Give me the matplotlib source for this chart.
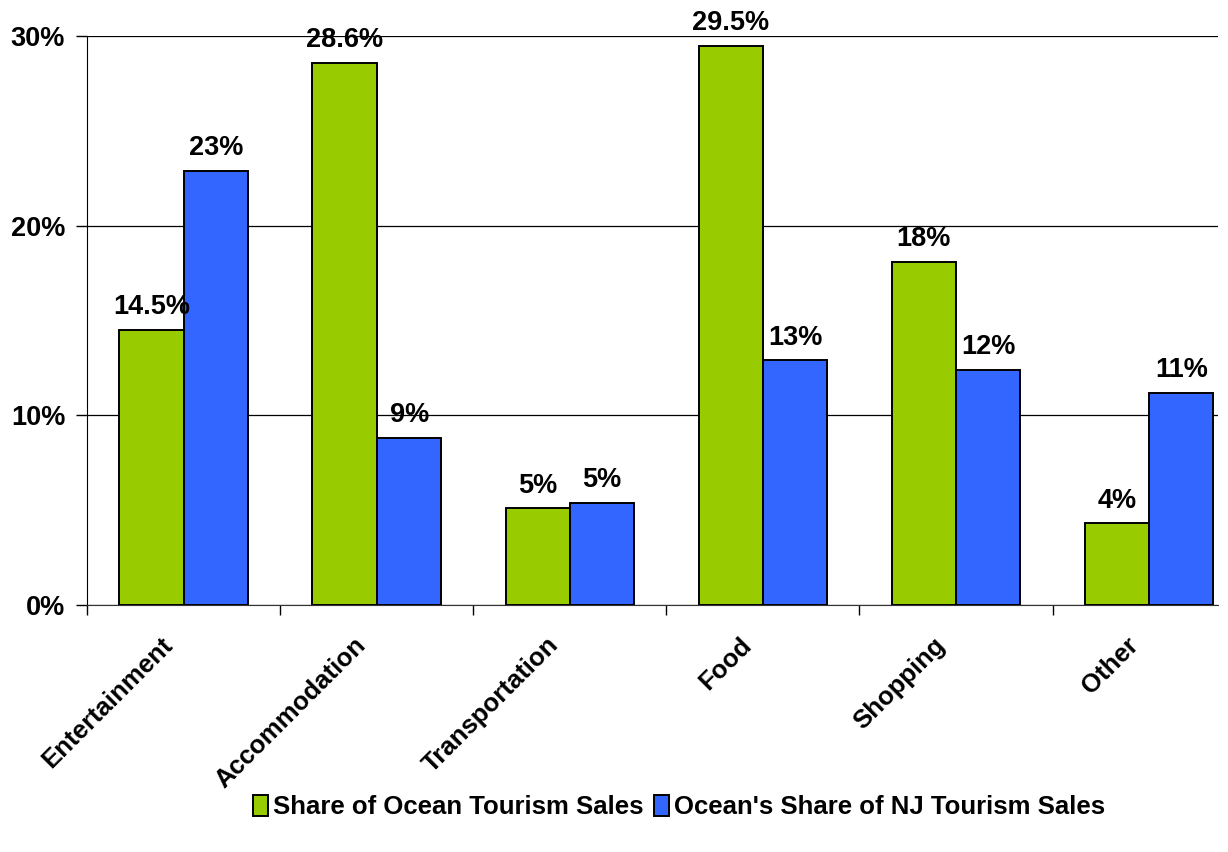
import numpy as np
import matplotlib
matplotlib.use("Agg")
from matplotlib import pyplot as plt
from matplotlib.ticker import FuncFormatter

categories = ["Entertainment", "Accommodation", "Transportation", "Food", "Shopping", "Other"]
ocean_share = [14.5, 28.6, 5.1, 29.5, 18.1, 4.3]
nj_share = [22.9, 8.8, 5.4, 12.9, 12.4, 11.2]
ocean_labels = ["14.5%", "28.6%", "5%", "29.5%", "18%", "4%"]
nj_labels = ["23%", "9%", "5%", "13%", "12%", "11%"]

plt.rcParams['font.family'] = ['Liberation Sans', 'DejaVu Sans']
plt.rcParams['font.weight'] = 'bold'
FS = 19.5

fig = plt.figure(figsize=(12.28, 8.52), dpi=100)
ax = fig.add_axes([0.0712, 0.2899, 0.9206, 0.6678])

x = np.arange(len(categories))
w = 0.334
bars1 = ax.bar(x - w/2, ocean_share, w, color='#99CC00', edgecolor='black', linewidth=1.4,
               label='Share of Ocean Tourism Sales', zorder=3)
bars2 = ax.bar(x + w/2, nj_share, w, color='#3366FF', edgecolor='black', linewidth=1.4,
               label="Ocean's Share of NJ Tourism Sales", zorder=3)

for b, t in zip(bars1, ocean_labels):
    ax.annotate(t, (b.get_x() + b.get_width()/2, b.get_height()), xytext=(0, 7),
                textcoords='offset points', ha='center', va='bottom', fontsize=FS, fontweight='bold')
for b, t in zip(bars2, nj_labels):
    ax.annotate(t, (b.get_x() + b.get_width()/2, b.get_height()), xytext=(0, 7),
                textcoords='offset points', ha='center', va='bottom', fontsize=FS, fontweight='bold')

# plot area is cut off at the right edge in the original
ax.set_xlim(-0.5, 5.357)
ax.set_ylim(0, 30)
ax.set_yticks([0, 10, 20, 30])
ax.yaxis.set_major_formatter(FuncFormatter(lambda v, p: "%d%%" % v))
ax.yaxis.grid(True, color='black', linewidth=0.9, zorder=0)
ax.set_axisbelow(True)

# category boundaries as major ticks, labels on minor ticks
ax.set_xticks(np.arange(len(categories)) - 0.5)
ax.set_xticklabels([])
ax.set_xticks(x - 0.12, minor=True)
ax.set_xticklabels(categories, minor=True, rotation=45, ha='right', rotation_mode='anchor',
                   fontsize=18.5, fontweight='bold')
ax.tick_params(axis='x', which='minor', length=0, pad=20)
ax.tick_params(axis='x', which='major', length=7, width=1, direction='out')
ax.tick_params(axis='y', length=8, width=1, labelsize=FS, pad=8)
for lab in ax.get_yticklabels():
    lab.set_fontweight('bold')

ax.spines['top'].set_visible(False)
ax.spines['right'].set_visible(False)
ax.spines['left'].set_color('black')
ax.spines['bottom'].set_color('#333333')

leg = fig.legend(loc='center', bbox_to_anchor=(0.553, 0.053), ncol=2, frameon=False,
                 prop={'size': 18.5, 'weight': 'bold'}, handlelength=0.6, handleheight=0.9,
                 handletextpad=0.2, columnspacing=0.4)

plt.savefig('out.png', dpi=100)
